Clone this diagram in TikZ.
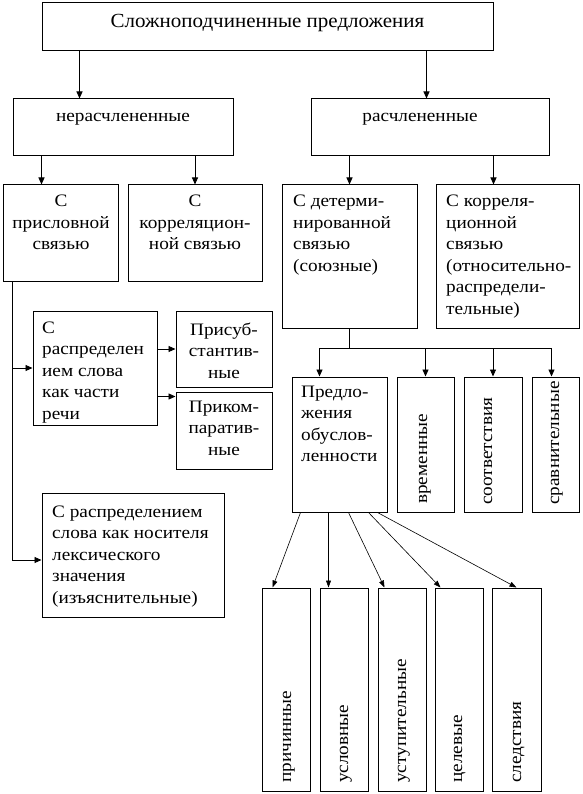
\documentclass[tikz,border=0pt]{standalone}
\usepackage{fontspec}
\setmainfont[FakeStretch=1.1]{Liberation Serif}
\newfontfamily\titlefont[FakeStretch=1.05]{Liberation Serif}
\usetikzlibrary{arrows.meta,fit}
\tikzset{
  box/.style={draw, line width=1pt, inner sep=0pt},
  arr/.style={line width=0.9pt, -{Triangle[length=7pt,width=6pt]}},
  thinarr/.style={line width=0.6pt, -{Triangle[length=7pt,width=5pt]}},
  txt/.style={inner sep=0pt, font=\fontsize{17.5}{21.5}\selectfont},
  vtxt/.style={inner sep=0pt, font=\fontsize{17.5}{21.5}\selectfont, rotate=90, anchor=base west},
}
\begin{document}
\begin{tikzpicture}[x=1pt,y=-1pt]
\useasboundingbox (0,0) rectangle (582,794);
% boxes
\node[box, fit={(42,3)(493,51)}] (title) {};
\node[box, fit={(13,99)(233,156)}] (nerasch) {};
\node[box, fit={(311,99)(549,156)}] (rasch) {};
\node[box, fit={(3,185)(118,281)}] (prislov) {};
\node[box, fit={(128,185)(262,281)}] (korrel1) {};
\node[box, fit={(282,185)(417,328)}] (determ) {};
\node[box, fit={(436,185)(579,328)}] (korrel2) {};
\node[box, fit={(33,311)(157,425)}] (raspr1) {};
\node[box, fit={(176,311)(272,387)}] (prisub) {};
\node[box, fit={(176,392)(272,469)}] (prikom) {};
\node[box, fit={(42,493)(224,617)}] (raspr2) {};
\node[box, fit={(292,377)(387,512)}] (predl) {};
\node[box, fit={(397,377)(454,512)}] (vrem) {};
\node[box, fit={(464,377)(522,512)}] (sootv) {};
\node[box, fit={(532,377)(579,512)}] (srav) {};
\node[box, fit={(262,588)(310,791)}] (prich) {};
\node[box, fit={(320,588)(368,791)}] (uslov) {};
\node[box, fit={(378,588)(426,791)}] (ustup) {};
\node[box, fit={(435,588)(483,791)}] (cel) {};
\node[box, fit={(492,588)(541,791)}] (sled) {};
% texts
\node[txt, anchor=base] (ttitle) at (267.5,28) {\titlefont\fontsize{20}{24}\selectfont Сложноподчиненные предложения};
\node[txt, anchor=base] (tnerasch) at (123,122) {нерасчлененные};
\node[txt, anchor=base] (trasch) at (420,122) {расчлененные};
\node[txt, anchor=base] (tprislov) at (61,207) {\parbox[t]{110pt}{\centering С\\присловной\\связью}};
\node[txt, anchor=base] (tkorrel1) at (195,207) {\parbox[t]{130pt}{\centering С\\корреляцион-\\ной связью}};
\node[txt, anchor=base west] (tdeterm) at (293,207) {\parbox[t]{130pt}{\raggedright С детерми-\\нированной\\связью\\(союзные)}};
\node[txt, anchor=base west] (tkorrel2) at (446,207) {\parbox[t]{140pt}{\raggedright С корреля-\\ционной\\связью\\(относительно-\\распредели-\\тельные)}};
\node[txt, anchor=base west] (traspr1) at (42,333) {\parbox[t]{130pt}{\raggedright С\\распределен\\ием слова\\как части\\речи}};
\node[txt, anchor=base] (tprisub) at (224,335) {\parbox[t]{100pt}{\centering Присуб-\\стантив-\\ные}};
\node[txt, anchor=base] (tprikom) at (224,412) {\parbox[t]{100pt}{\centering Приком-\\паратив-\\ные}};
\node[txt, anchor=base west] (traspr2) at (52,517) {\parbox[t]{180pt}{\raggedright С распределением\\слова как носителя\\лексического\\значения\\(изъяснительные)}};
\node[txt, anchor=base west] (tpredl) at (301,397) {\parbox[t]{100pt}{\raggedright Предло-\\жения\\обуслов-\\ленности}};
\node[vtxt] (tvrem) at (427,504) {временные};
\node[vtxt] (tsootv) at (492,505) {соответствия};
\node[vtxt] (tsrav) at (559,505) {сравнительные};
\node[vtxt] (tprich) at (291,783) {причинные};
\node[vtxt] (tuslov) at (348,783) {условные};
\node[vtxt] (tustup) at (406,783) {уступительные};
\node[vtxt] (tcel) at (462,783) {целевые};
\node[vtxt] (tsled) at (521,783) {следствия};
% connectors
\draw[arr] ([xshift=38pt]title.south west) coordinate (c1) -- (c1 |- nerasch.north);
\draw[arr] ([xshift=-67pt]title.south east) coordinate (c2) -- (c2 |- rasch.north);
\draw[arr] ([xshift=29pt]nerasch.south west) coordinate (c3) -- (c3 |- prislov.north);
\draw[arr] (korrel1.north |- nerasch.south) -- (korrel1.north);
\draw[arr] (determ.north |- rasch.south) -- (determ.north);
\draw[arr] ([xshift=-56pt]rasch.south east) coordinate (c6) -- (c6 |- korrel2.north);
\coordinate (c7) at ([xshift=10pt]prislov.south west);
\draw[arr] (c7) |- ([yshift=-5pt]raspr2.west);
\draw[arr] (c7 |- raspr1.west) -- (raspr1.west);
\draw[arr] (raspr1.east |- prisub.west) -- (prisub.west);
\coordinate (c9) at ([yshift=-5pt]prikom.north west);
\draw[arr] (raspr1.east |- c9) -- (c9);
\draw[line width=0.9pt] (determ.south) -- ++(0,20) coordinate (bus);
\draw[arr] (bus) -| ([xshift=28pt]predl.north west);
\draw[arr] (bus) -| (vrem.north);
\draw[arr] (bus) -| (sootv.north);
\draw[arr] (bus) -| ([xshift=-28pt]srav.north east);
\draw[thinarr] ([xshift=9pt]predl.south west) -- ([xshift=11pt]prich.north west);
\draw[thinarr] ([xshift=37pt]predl.south west) -- ([xshift=9pt]uslov.north west);
\draw[thinarr] ([xshift=57pt]predl.south west) -- ([xshift=7pt]ustup.north west);
\draw[thinarr] ([xshift=77pt]predl.south west) -- ([xshift=6pt]cel.north west);
\draw[thinarr] ([xshift=86pt]predl.south west) -- ([xshift=25pt]sled.north west);
\end{tikzpicture}
\end{document}
